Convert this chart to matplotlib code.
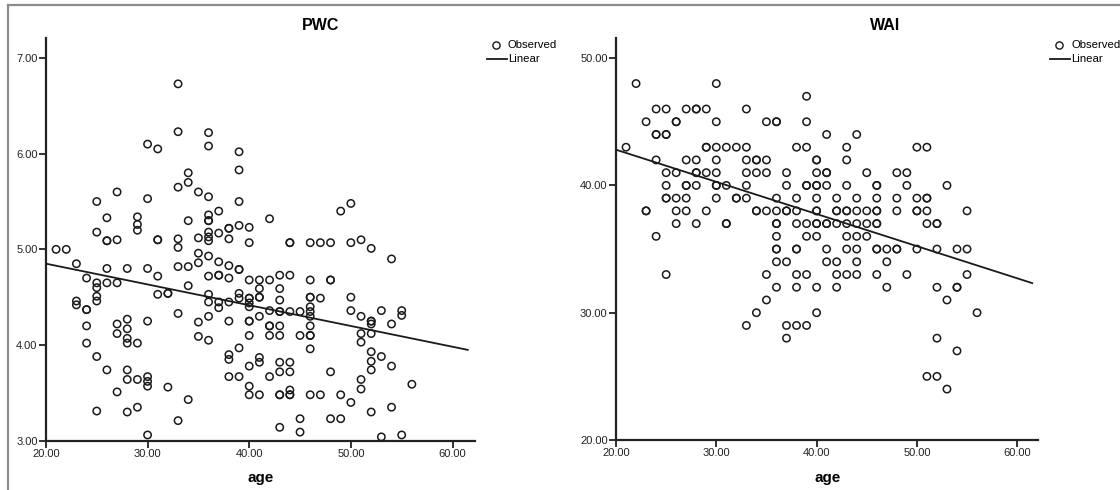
import matplotlib
matplotlib.use("Agg")
import matplotlib.pyplot as plt
import numpy as np
from matplotlib.lines import Line2D

plt.rcParams["font.family"] = ["Liberation Sans", "DejaVu Sans"]

# PWC by age (age -> list of observed values)
pwc_ages = [21, 22, 23, 24, 25, 26, 27, 28, 29, 30, 31, 32, 33, 34, 35, 36, 37, 38,
            39, 40, 41, 42, 43, 44, 45, 46, 47, 48, 49, 50, 51, 52, 53, 54, 55, 56]
pwc_vals = [
    [5.00],
    [5.00],
    [4.85, 4.46, 4.42],
    [4.70, 4.37, 4.37, 4.20, 4.02],
    [5.50, 5.18, 4.65, 4.60, 4.51, 4.46, 3.88, 3.31],
    [5.33, 5.09, 5.09, 4.80, 4.65, 3.74],
    [5.60, 5.10, 4.65, 4.22, 4.12, 3.51],
    [4.80, 4.27, 4.17, 4.07, 4.02, 3.74, 3.64, 3.30],
    [5.34, 5.26, 5.20, 4.02, 3.64, 3.35],
    [6.10, 5.53, 4.80, 4.25, 3.67, 3.62, 3.57, 3.06],
    [6.05, 5.10, 5.10, 4.72, 4.53],
    [4.54, 4.54, 3.56],
    [6.73, 6.23, 5.65, 5.11, 5.02, 4.82, 4.33, 3.21],
    [5.80, 5.70, 5.30, 4.82, 4.62, 3.43],
    [5.60, 5.12, 4.96, 4.86, 4.24, 4.09],
    [6.22, 6.08, 5.55, 5.36, 5.30, 5.30, 5.18, 5.13, 5.09, 4.93, 4.72, 4.53, 4.45, 4.30, 4.05],
    [5.40, 5.17, 4.87, 4.73, 4.73, 4.45, 4.39],
    [5.22, 5.22, 5.11, 4.83, 4.70, 4.45, 4.25, 3.90, 3.85, 3.67],
    [6.02, 5.83, 5.50, 5.25, 4.79, 4.79, 4.54, 4.49, 3.97, 3.67],
    [5.23, 5.07, 4.68, 4.49, 4.49, 4.44, 4.40, 4.25, 4.25, 4.10, 3.78, 3.57, 3.48],
    [4.68, 4.59, 4.50, 4.50, 4.30, 3.87, 3.82, 3.48],
    [5.32, 4.68, 4.36, 4.20, 4.20, 4.10, 3.67],
    [4.73, 4.59, 4.47, 4.35, 4.35, 4.20, 4.10, 3.82, 3.72, 3.48, 3.48, 3.14],
    [5.07, 5.07, 4.73, 4.35, 3.82, 3.72, 3.53, 3.48, 3.48],
    [4.35, 4.10, 3.23, 3.09],
    [5.07, 4.68, 4.50, 4.50, 4.40, 4.35, 4.30, 4.20, 4.10, 4.10, 3.96, 3.48],
    [5.07, 4.49, 3.48],
    [5.07, 4.68, 4.68, 3.72, 3.23],
    [5.40, 3.48, 3.23],
    [5.48, 5.07, 4.50, 4.36, 3.40],
    [5.10, 4.30, 4.12, 4.03, 3.64, 3.54],
    [5.01, 4.25, 4.25, 4.22, 4.12, 3.93, 3.83, 3.74, 3.30],
    [4.36, 3.88, 3.04],
    [4.90, 4.22, 3.78, 3.35],
    [4.36, 4.31, 3.06],
    [3.59],
]

# WAI by age
wai_ages = pwc_ages
wai_vals = [
    [43],
    [48],
    [45, 38, 38],
    [46, 44, 44, 42, 36],
    [46, 44, 44, 41, 40, 39, 39, 33],
    [45, 45, 41, 39, 38, 37],
    [46, 42, 40, 40, 39, 38],
    [46, 46, 42, 41, 41, 40, 37],
    [46, 43, 43, 41, 38],
    [48, 45, 43, 42, 41, 40, 40, 39],
    [43, 40, 37, 37],
    [43, 39, 39],
    [46, 43, 42, 41, 40, 39, 29],
    [42, 42, 41, 38, 38, 30],
    [45, 42, 41, 38, 33, 31],
    [45, 45, 39, 38, 37, 37, 36, 35, 35, 34, 32],
    [41, 40, 38, 38, 34, 29, 28],
    [43, 39, 38, 37, 35, 35, 33, 32, 29],
    [47, 45, 43, 40, 40, 37, 36, 33, 29],
    [42, 42, 41, 40, 40, 39, 38, 38, 37, 37, 36, 32, 30],
    [44, 41, 41, 40, 37, 37, 35, 34],
    [39, 38, 38, 37, 34, 33, 32],
    [43, 42, 40, 38, 38, 37, 36, 35, 33],
    [44, 39, 38, 37, 36, 35, 34, 33],
    [41, 38, 37, 36],
    [40, 40, 39, 38, 38, 37, 37, 35, 35, 33],
    [35, 34, 32],
    [41, 39, 38, 35, 35],
    [41, 40, 33],
    [43, 39, 38, 38, 35],
    [43, 39, 39, 38, 37, 25],
    [37, 37, 35, 32, 28, 25],
    [40, 31, 24],
    [35, 32, 32, 27],
    [38, 35, 33],
    [30],
]

panels = [
    ("PWC", pwc_ages, pwc_vals, (20, 62.2), (3.0, 7.21), [3, 4, 5, 6, 7],
     [0.041, 0.1006, 0.383, 0.822], 321, 496, 261),
    ("WAI", wai_ages, wai_vals, (20, 62.1), (20, 51.6), [20, 30, 40, 50],
     [0.55, 0.102, 0.377, 0.821], 885, 1059, 828),
]

W, H = 1120, 490
fig = plt.figure(figsize=(W / 100, H / 100), dpi=100)

# outer gray frame (top and left)
fig.add_artist(Line2D([8 / W, 1], [1 - 5 / H, 1 - 5 / H], color="#8c8c8c", lw=1.6))
fig.add_artist(Line2D([8 / W, 8 / W], [0, 1 - 5 / H], color="#8c8c8c", lw=1.6))

for title, ages, vals, xlim, ylim, yticks, rect, tx, lx, agex in panels:
    ax = fig.add_axes(rect)
    x = np.concatenate([[a] * len(v) for a, v in zip(ages, vals)])
    y = np.concatenate([v for v in vals])
    ax.scatter(x, y, s=28, facecolors="none", edgecolors="#1a1a1a", linewidths=1.1, zorder=3)
    slope, icpt = np.polyfit(x, y, 1)
    xl = np.array([xlim[0], 61.5])
    ax.plot(xl, icpt + slope * xl, color="#1a1a1a", lw=1.3, zorder=4)

    ax.set_xlim(*xlim)
    ax.set_ylim(*ylim)
    ax.set_xticks([20, 30, 40, 50, 60])
    ax.set_xticklabels(["%.2f" % t for t in [20, 30, 40, 50, 60]])
    ax.set_yticks(yticks)
    ax.set_yticklabels(["%.2f" % t for t in yticks])
    for s in ["top", "right"]:
        ax.spines[s].set_visible(False)
    for s in ["left", "bottom"]:
        ax.spines[s].set_linewidth(1.6)
        ax.spines[s].set_color("#222222")
    ax.tick_params(direction="out", length=5, width=1.3, labelsize=8,
                   colors="#222222", pad=1)
    ax.patch.set_alpha(0)

    fig.text(tx / W, 1 - 25 / H, title, ha="center", va="center",
             fontsize=11.5, fontweight="bold")
    fig.text(agex / W, 1 - 478 / H, "age", ha="center", va="center",
             fontsize=11, fontweight="bold")

    # legend
    fig.add_artist(Line2D([lx / W], [1 - 45 / H], marker="o", ms=5.2, mfc="none",
                          mec="#1a1a1a", mew=1.0, ls="none"))
    fig.add_artist(Line2D([(lx - 9) / W, (lx + 11) / W], [1 - 59 / H, 1 - 59 / H],
                          color="#1a1a1a", lw=1.3))
    fig.text((lx + 12) / W, 1 - 45 / H, "Observed", fontsize=8.2, va="center")
    fig.text((lx + 12) / W, 1 - 59 / H, "Linear", fontsize=8.2, va="center")

fig.savefig("out.png", dpi=100)
